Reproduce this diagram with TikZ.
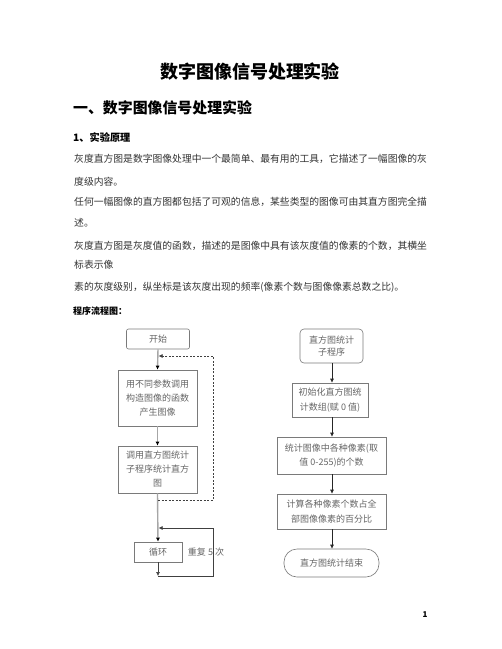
\documentclass[tikz,border=0pt]{standalone}
\usepackage{fontspec}
\setmainfont{Noto Sans CJK SC}
\usetikzlibrary{arrows.meta}
\definecolor{bodytxt}{HTML}{333333}
\definecolor{boxline}{HTML}{7A7A7A}
\definecolor{boxtxt}{HTML}{666666}
\begin{document}
\begin{tikzpicture}[x=1pt,y=-1pt,
  bodyline/.style={anchor=west,inner sep=0pt,text=bodytxt,font=\fontsize{9.8}{12}\selectfont},
  fbox/.style={draw=boxline,line width=0.6pt,text=boxtxt,align=center,inner sep=1pt,
     font=\fontsize{9}{14}\selectfont},
  grayarrow/.style={draw=gray!70,line width=1.4pt,-{Latex[length=4pt,width=4pt,color=black]}},
  blackarrow/.style={draw=black!85,line width=0.6pt,-{Latex[length=4pt,width=4pt]}},
  looparrow/.style={draw=black!75,line width=0.6pt,-{Latex[length=4pt,width=4pt]}},
  dashloop/.style={draw=black!75,line width=0.6pt,dash pattern=on 2pt off 1.5pt,-{Latex[length=4pt,width=4pt]}}]
\useasboundingbox[fill=white] (0,0) rectangle (502,649);

% headings
\node[font=\fontsize{18}{20}\selectfont\bfseries,inner sep=0pt] (title) at (250,71.5) {数字图像信号处理实验};
\node[font=\fontsize{14.9}{16}\selectfont\bfseries,anchor=west,inner sep=0pt] (h1) at (73,108) {一、数字图像信号处理实验};
\node[font=\fontsize{10.2}{12}\selectfont\bfseries,anchor=west,inner sep=0pt] (h2) at (73,138) {1、实验原理};

% body
\node[bodyline] (l1) at (74,159) {灰度直方图是数字图像处理中一个最简单、最有用的工具，它描述了一幅图像的灰};
\node[bodyline] (l2) at (74,182) {度级内容。};
\node[bodyline] (l3) at (74,202) {任何一幅图像的直方图都包括了可观的信息，某些类型的图像可由其直方图完全描};
\node[bodyline] (l4) at (74,223) {述。};
\node[bodyline] (l5) at (74,246) {灰度直方图是灰度值的函数，描述的是图像中具有该灰度值的像素的个数，其横坐};
\node[bodyline] (l6) at (74,265) {标表示像};
\node[bodyline] (l7) at (74,287) {素的灰度级别，纵坐标是该灰度出现的频率(像素个数与图像像素总数之比)。};
\node[font=\fontsize{9}{11}\selectfont\bfseries,anchor=west,inner sep=0pt] (h3) at (73,311) {程序流程图：};

% left flowchart
\node[fbox,rounded corners=2pt,minimum width=63pt,minimum height=20pt] (start) at (158,339) {开始};
\node[fbox,minimum width=79pt,minimum height=56pt] (b2) at (157.5,398) {用不同参数调用\\构造图像的函数\\产生图像};
\node[fbox,minimum width=79pt,minimum height=47pt] (b3) at (157.5,469.5) {调用直方图统计\\子程序统计直方\\图};
\node[fbox,minimum width=48pt,minimum height=20pt] (loop) at (158,552) {循环};
\node[text=boxtxt,font=\fontsize{9}{11}\selectfont,inner sep=0pt] (rep) at (206,552) {重复 5 次};

\draw[grayarrow] (start.south) -- (b2.north);
\draw[grayarrow] (b2.south) -- (b3.north);
\draw[grayarrow] (b3.south) -- (loop.north);

\coordinate (dA) at (158,500);
\coordinate (dX) at (213,0);
\coordinate (dEnd) at (158.6,356);
\draw[dashloop] (dA) -- (dA -| dX) |- (dEnd);

\coordinate (lA) at (158,576);
\coordinate (lEnd) at (158.6,528);
\draw[looparrow] (loop.south) -- (lA);
\draw[looparrow] (lA) -- (lA -| dX) |- (lEnd);

% right flowchart
\node[fbox,rounded corners=4pt,minimum width=63pt,minimum height=34pt,font=\fontsize{9}{12.5}\selectfont] (r1) at (331.5,346) {直方图统计\\子程序};
\node[fbox,minimum width=76pt,minimum height=34pt,font=\fontsize{9}{15}\selectfont] (r2) at (330,400) {初始化直方图统\\计数组(赋 0 值)};
\node[fbox,minimum width=109pt,minimum height=37pt,font=\fontsize{9}{14.5}\selectfont] (r3) at (331.5,455.5) {统计图像中各种像素(取\\值 0-255)的个数};
\node[fbox,minimum width=109pt,minimum height=35pt,font=\fontsize{9}{14.5}\selectfont] (r4) at (331.5,511.5) {计算各种像素个数占全\\部图像像素的百分比};
\node[fbox,rounded corners=13pt,minimum width=95pt,minimum height=28pt] (r5) at (331.5,563) {直方图统计结束};

\draw[blackarrow] (r1.south -| 332,0) -- (r2.north -| 332,0);
\draw[blackarrow] (r2.south -| 332,0) -- (r3.north -| 332,0);
\draw[blackarrow] (r3.south -| 332,0) -- (r4.north -| 332,0);
\draw[blackarrow] (r4.south -| 332,0) -- (r5.north -| 332,0);

% page number
\node[font=\fontsize{8}{9}\selectfont\bfseries,inner sep=0pt] (pg) at (425,615) {1};
\end{tikzpicture}
\end{document}
